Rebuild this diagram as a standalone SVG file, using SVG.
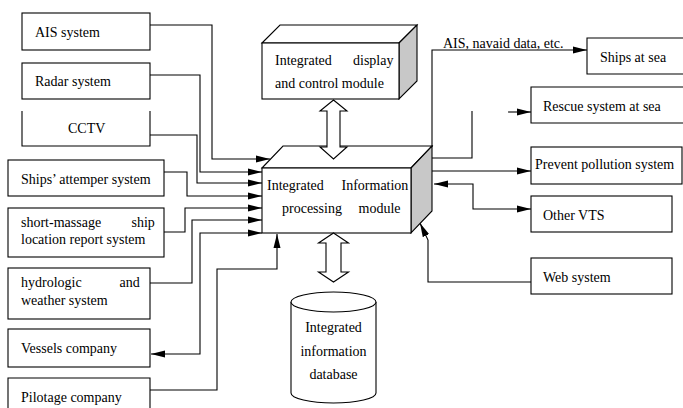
<svg xmlns="http://www.w3.org/2000/svg" width="683" height="408" viewBox="0 0 683 408">
<style>
.box{fill:#fff;stroke:#000;stroke-width:1.1}
.side{fill:#c8c8c8;stroke:#000;stroke-width:1.1}
.t{font-family:"Liberation Serif","Times New Roman",serif;font-size:14px;fill:#000}
.m{text-anchor:middle}
.c{fill:none;stroke:#000;stroke-width:1.1}
.dbl{fill:#fff;stroke:#000;stroke-width:1.1}
</style>
<defs>
<marker id="ah" viewBox="0 0 14 8" refX="14" refY="4" markerWidth="14" markerHeight="8" markerUnits="userSpaceOnUse" orient="auto-start-reverse">
<path d="M0,0.5 L14,4 L0,7.5 z" fill="#000"/>
</marker>
</defs>
<rect width="683" height="408" fill="#fff"/>

<g id="connectors">
<path class="c" d="M150,25 H212 V159 H270" marker-end="url(#ah)"/>
<path class="c" d="M150,75 H200 V172 H262" marker-end="url(#ah)"/>
<path class="c" d="M150,135 H197 V183 H262" marker-end="url(#ah)"/>
<path class="c" d="M164,172 H187 V196 H262" marker-end="url(#ah)"/>
<path class="c" d="M164,232 H185 V208 H262" marker-end="url(#ah)"/>
<path class="c" d="M150,283 H192 V220 H262" marker-end="url(#ah)"/>
<path class="c" d="M151,354 H200 V233 H262" marker-start="url(#ah)" marker-end="url(#ah)"/>
<path class="c" d="M150,390 H217 V269 H277 V234" marker-end="url(#ah)"/>
<path class="c" d="M432,147 V50 H587" marker-end="url(#ah)"/>
<path class="c" d="M432,158 H472 V111"/>
<path class="c" d="M508,112 H531" marker-end="url(#ah)"/>
<path class="c" d="M432,171 H531" marker-end="url(#ah)"/>
<path class="c" d="M434,184 H473 V209 H531" marker-start="url(#ah)" marker-end="url(#ah)"/>
<path class="c" d="M531,282 H428 V240 L420,223" marker-end="url(#ah)"/>
</g>

<g id="ais"><rect class="box" x="22" y="13" width="128" height="37"/><text class="t" x="35" y="37">AIS system</text></g>
<g id="radar"><rect class="box" x="22" y="63" width="128" height="36"/><text class="t" x="35" y="86">Radar system</text></g>
<g id="cctv"><path class="box" d="M22,111 V146 H150 V111"/><text class="t" x="68" y="133">CCTV</text></g>
<g id="attemper"><rect class="box" x="8" y="160" width="156" height="36"/><text class="t" x="21" y="184">Ships’ attemper system</text></g>
<g id="shortmsg"><rect class="box" x="8" y="208" width="156" height="49"/><text class="t" y="227"><tspan x="21">short-massage</tspan><tspan x="128"> ship</tspan></text><text class="t" x="21" y="244">location report system</text></g>
<g id="hydro"><rect class="box" x="8" y="268" width="142" height="51"/><text class="t" y="287"><tspan x="21">hydrologic</tspan><tspan x="116"> and</tspan></text><text class="t" x="21" y="305">weather system</text></g>
<g id="vessels"><rect class="box" x="8" y="329" width="142" height="38"/><text class="t" x="21" y="353">Vessels company</text></g>
<g id="pilotage"><path class="box" d="M8,409 V378 H150 V409"/><text class="t" x="21" y="402">Pilotage company</text></g>

<g id="display">
<polygon class="box" points="262,43 280,25 417,25 399,43"/>
<polygon class="side" points="399,43 417,25 417,81 399,99"/>
<rect class="box" x="262" y="43" width="137" height="56"/>
<text class="t" y="65"><tspan x="275">Integrated</tspan><tspan x="349.5"> display</tspan></text>
<text class="t" x="275" y="88">and control module</text>
</g>

<g id="processing">
<polygon class="box" points="262,168 283,146 432,146 411,168"/>
<polygon class="side" points="411,168 432,146 432,211 411,233"/>
<rect class="box" x="262" y="168" width="149" height="65"/>
<text class="t" y="190"><tspan x="267">Integrated</tspan><tspan x="338"> Information</tspan></text>
<text class="t" y="213"><tspan x="282">processing</tspan><tspan x="355"> module</tspan></text>
</g>

<g id="database">
<path class="box" d="M291,302 V393 A42.5,10 0 0 0 376,393 V302"/>
<ellipse class="box" cx="333.5" cy="302" rx="42.5" ry="10"/>
<text class="t m" x="333.5" y="332">Integrated</text>
<text class="t m" x="333.5" y="356">information</text>
<text class="t m" x="333.5" y="379">database</text>
</g>

<g id="arrow-display">
<polygon class="dbl" points="333.5,100 347,111 340,111 340,147 347,147 333.5,159 320,147 327,147 327,111 320,111"/>
</g>
<g id="arrow-db">
<polygon class="dbl" points="333.5,233 348.5,243 341,243 341,272 348.5,272 333.5,282 318.5,272 326,272 326,243 318.5,243"/>
</g>

<g id="label-ais"><text class="t" x="443" y="48">AIS, navaid data, etc.</text></g>

<g id="ships"><path class="box" d="M684,38 H587 V74 H684"/><text class="t" x="600" y="62">Ships at sea</text></g>
<g id="rescue"><path class="box" d="M684,87 H531 V123 H684"/><text class="t" x="543" y="111">Rescue system at sea</text></g>
<g id="pollution"><rect class="box" x="531" y="147" width="151" height="37"/><text class="t" x="535" y="169">Prevent pollution system</text></g>
<g id="othervts"><rect class="box" x="531" y="196" width="141" height="36"/><text class="t" x="543" y="220">Other VTS</text></g>
<g id="web"><rect class="box" x="531" y="258" width="141" height="36"/><text class="t" x="543" y="282">Web system</text></g>
</svg>
